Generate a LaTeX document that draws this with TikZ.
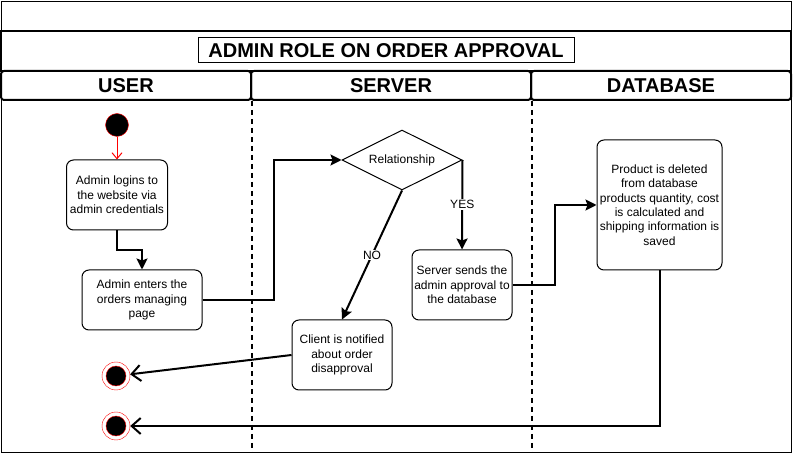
\documentclass[tikz,border=0pt]{standalone}
\usepackage{fontspec}
\setmainfont{Liberation Sans}
\usetikzlibrary{shapes.geometric,arrows.meta}
\pgfdeclarelayer{edgelayer}
\pgfdeclarelayer{nodelayer}
\pgfsetlayers{edgelayer,nodelayer,main}
\tikzstyle{activity}=[rectangle, rounded corners=7, draw=black, fill=white, line width=1, align=center, font=\fontsize{12}{14.3}\selectfont, inner sep=2]
\tikzstyle{decision}=[diamond, aspect=2, draw=black, fill=white, line width=1, minimum width=120, minimum height=60, inner sep=0, font=\fontsize{12}{14.3}\selectfont]
\tikzstyle{lane}=[rectangle, rounded corners=3, draw=black, line width=2, minimum height=29, font=\fontsize{20}{24}\selectfont\bfseries]
\tikzstyle{band}=[rectangle, draw=black, line width=2, minimum width=790, minimum height=40]
\tikzstyle{titlebox}=[rectangle, draw=black, line width=1, minimum width=376, minimum height=25, inner sep=1, font=\fontsize{20}{24}\selectfont\bfseries]
\tikzstyle{startstate}=[circle, fill=black, draw=red, minimum size=23, inner sep=0]
\tikzstyle{endstate}=[circle, draw=red, fill=white, minimum size=28, inner sep=0, path picture={\filldraw[fill=black, draw=red] (path picture bounding box.center) circle (10pt);}]
\tikzstyle{flow}=[-{Stealth[length=11pt,width=11pt,inset=2pt]}, draw=black, line width=2]
\tikzstyle{finalflow}=[-{Straight Barb[length=9pt,width=16pt]}, draw=black, line width=2]
\tikzstyle{startflow}=[-{Straight Barb[length=6pt,width=10pt]}, draw=red, line width=1]
\tikzstyle{laneline}=[draw=black, line width=1.5, dash pattern=on 5pt off 4pt]
\tikzstyle{guard}=[fill=white, font=\fontsize{12}{14.3}\selectfont, inner sep=1]

\begin{document}
\begin{tikzpicture}[x=1pt, y=-1pt]
            \useasboundingbox (0,0) rectangle (793,454);
            \begin{pgfonlayer}{nodelayer}
                \node [style=band] (band) at (396, 51) {};
                \node [style=titlebox] (title) at (386, 50.5) {ADMIN ROLE ON ORDER APPROVAL};
                \node [style=lane, minimum width=250] (user) at (126, 85.5) {USER};
                \node [style=lane, minimum width=280] (server) at (391, 85.5) {SERVER};
                \node [style=lane, minimum width=260] (database) at (661, 85.5) {DATABASE};
                \coordinate (bottom) at (0, 452);
                \node [style=startstate] (start) at (117, 125) {};
                \node [style=activity, minimum width=101, minimum height=70] (login) at (117, 195) {Admin logins to\\the website via\\admin credentials};
                \node [style=activity, minimum width=120, minimum height=60] (enter) at (142, 300) {Admin enters the\\orders managing\\page};
                \node [style=decision] (rel) at (402, 160) {Relationship};
                \node [style=activity, minimum width=100, minimum height=70] (send) at (462, 285) {Server sends the\\admin approval to\\the database};
                \node [style=activity, minimum width=100, minimum height=70] (notify) at (342, 355) {Client is notified\\about order\\disapproval};
                \node [style=activity, minimum width=125, minimum height=130] (deleted) at (659.5, 205) {Product is deleted\\from database\\products quantity, cost\\is calculated and\\shipping information is\\saved};
                \node [style=endstate] (end1) at (116, 376) {};
                \node [style=endstate] (end2) at (116, 426) {};
            \end{pgfonlayer}
            \begin{pgfonlayer}{edgelayer}
                \draw (1, 1) rectangle (791, 452);
                \draw [style=laneline] (user.south east) -- (user.south east |- bottom);
                \draw [style=laneline] (server.south east) -- (server.south east |- bottom);
                \draw [style=startflow] (start) to (login);
                \draw [style=flow] (login.south) -- ++(0, 20) -| (enter.north);
                \draw [style=flow] (enter.east) -- ++(71, 0) |- (rel.west);
                \draw [style=flow] (rel.east) to node [style=guard] {YES} (send.north);
                \draw [style=flow] (rel.south) to node [style=guard] {NO} (notify.north);
                \draw [style=finalflow] (notify.west) to (end1);
                \draw [style=flow] (send.east) -- ++(42, 0) |- (deleted.west);
                \draw [style=finalflow] (deleted.south) |- (end2);
            \end{pgfonlayer}
        \end{tikzpicture}
\end{document}
